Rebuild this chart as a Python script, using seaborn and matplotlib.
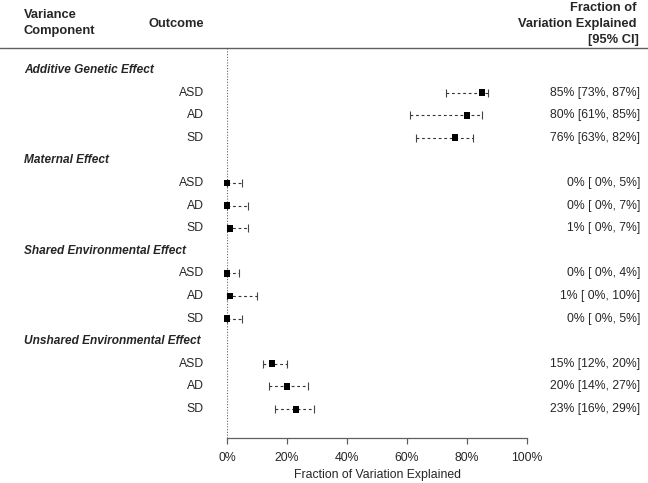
import numpy as np
import pandas as pd
import matplotlib
matplotlib.use("Agg")
import matplotlib.pyplot as plt
import matplotlib.transforms as mtransforms
from matplotlib.lines import Line2D
import seaborn as sns

# Данные: компоненты дисперсии, исходы, оценки и 95% ДИ (в процентах)
components = ['Additive Genetic Effect', 'Maternal Effect',
              'Shared Environmental Effect', 'Unshared Environmental Effect']
outcomes = ['ASD', 'AD', 'SD']
estimate = [85, 80, 76, 0, 0, 1, 0, 1, 0, 15, 20, 23]
lower = [73, 61, 63, 0, 0, 0, 0, 0, 0, 12, 14, 16]
upper = [87, 85, 82, 5, 7, 7, 4, 10, 5, 20, 27, 29]
xticks = [0, 20, 40, 60, 80, 100]

W, H = 648, 483


def fx(x):
    return x / W


def fy(y):
    return 1 - y / H


# Строим таблицу: строки групп и строки исходов
rows, comp_col, out_col = [], [], []
for g, comp in enumerate(components):
    for i, out in enumerate(outcomes):
        rows.append(g * 4 + 1 + i)
        comp_col.append(comp)
        out_col.append(out)
df = pd.DataFrame({'component': comp_col, 'outcome': out_col, 'row': rows,
                   'est': estimate, 'lo': lower, 'hi': upper})

sns.set_theme(style='white')
plt.rcParams['font.family'] = ['Liberation Sans', 'DejaVu Sans']

fig = plt.figure(figsize=(6.48, 4.83), dpi=100)
ax = fig.add_axes([fx(227), fy(438), 300 / W, (438 - 48) / H])
ax.set_xlim(0, 100)
ax.set_ylim(16.28, -0.97)

grey = '#606060'
ax.axvline(0, ls=(0, (1, 1.5)), color=grey, lw=0.8, zorder=1)
ax.hlines(df['row'], df['lo'], df['hi'], colors='#333333',
          linestyles=(0, (2.5, 2.5)), lw=0.8, zorder=2)
ax.scatter(df['lo'], df['row'], marker='|', s=34, color='#444444', lw=0.8,
           clip_on=False, zorder=2)
ax.scatter(df['hi'], df['row'], marker='|', s=34, color='#444444', lw=0.8,
           clip_on=False, zorder=2)
sns.scatterplot(data=df, x='est', y='row', marker='s', color='black', s=25,
                edgecolor='none', legend=False, ax=ax, clip_on=False, zorder=3)

for side in ['top', 'right', 'left']:
    ax.spines[side].set_visible(False)
ax.spines['bottom'].set_color(grey)
ax.spines['bottom'].set_linewidth(0.9)
ax.set_yticks([])
ax.set_ylabel('')
ax.set_xticks(xticks)
ax.set_xticklabels([f'{t}%' for t in xticks])
ax.tick_params(axis='x', direction='out', length=4, width=0.9, color=grey,
               labelsize=8.8, pad=6, bottom=True)
ax.set_xlabel('Fraction of Variation Explained', fontsize=8.8, labelpad=4)

# Тексты слева и справа
trans = mtransforms.blended_transform_factory(fig.transFigure, ax.transData)
fs = 8.8
hs = 9.3
for g, comp in enumerate(components):
    ax.text(fx(24), g * 4, comp, transform=trans, fontsize=8.6,
            fontweight='bold', fontstyle='italic', ha='left', va='center')
for _, r in df.iterrows():
    ax.text(fx(204), r['row'], r['outcome'], transform=trans, fontsize=fs,
            ha='right', va='center')
    ax.text(fx(640), r['row'], f"{r['est']}% [{r['lo']:>2}%, {r['hi']}%]",
            transform=trans, fontsize=fs, ha='right', va='center')

# Заголовки столбцов
fig.text(fx(24), fy(15), 'Variance', fontsize=hs, fontweight='bold',
         ha='left', va='center')
fig.text(fx(24), fy(31), 'Component', fontsize=hs, fontweight='bold',
         ha='left', va='center')
fig.text(fx(204), fy(24), 'Outcome', fontsize=hs, fontweight='bold',
         ha='right', va='center')
fig.text(fx(637), fy(8), 'Fraction of', fontsize=hs, fontweight='bold',
         ha='right', va='center')
fig.text(fx(637), fy(24), 'Variation Explained', fontsize=hs, fontweight='bold',
         ha='right', va='center')
fig.text(fx(639), fy(40), '[95% CI]', fontsize=hs, fontweight='bold',
         ha='right', va='center')
fig.add_artist(Line2D([0, 1], [fy(48), fy(48)], transform=fig.transFigure,
                      color=grey, lw=1.0))

fig.savefig('out.png', dpi=100)
